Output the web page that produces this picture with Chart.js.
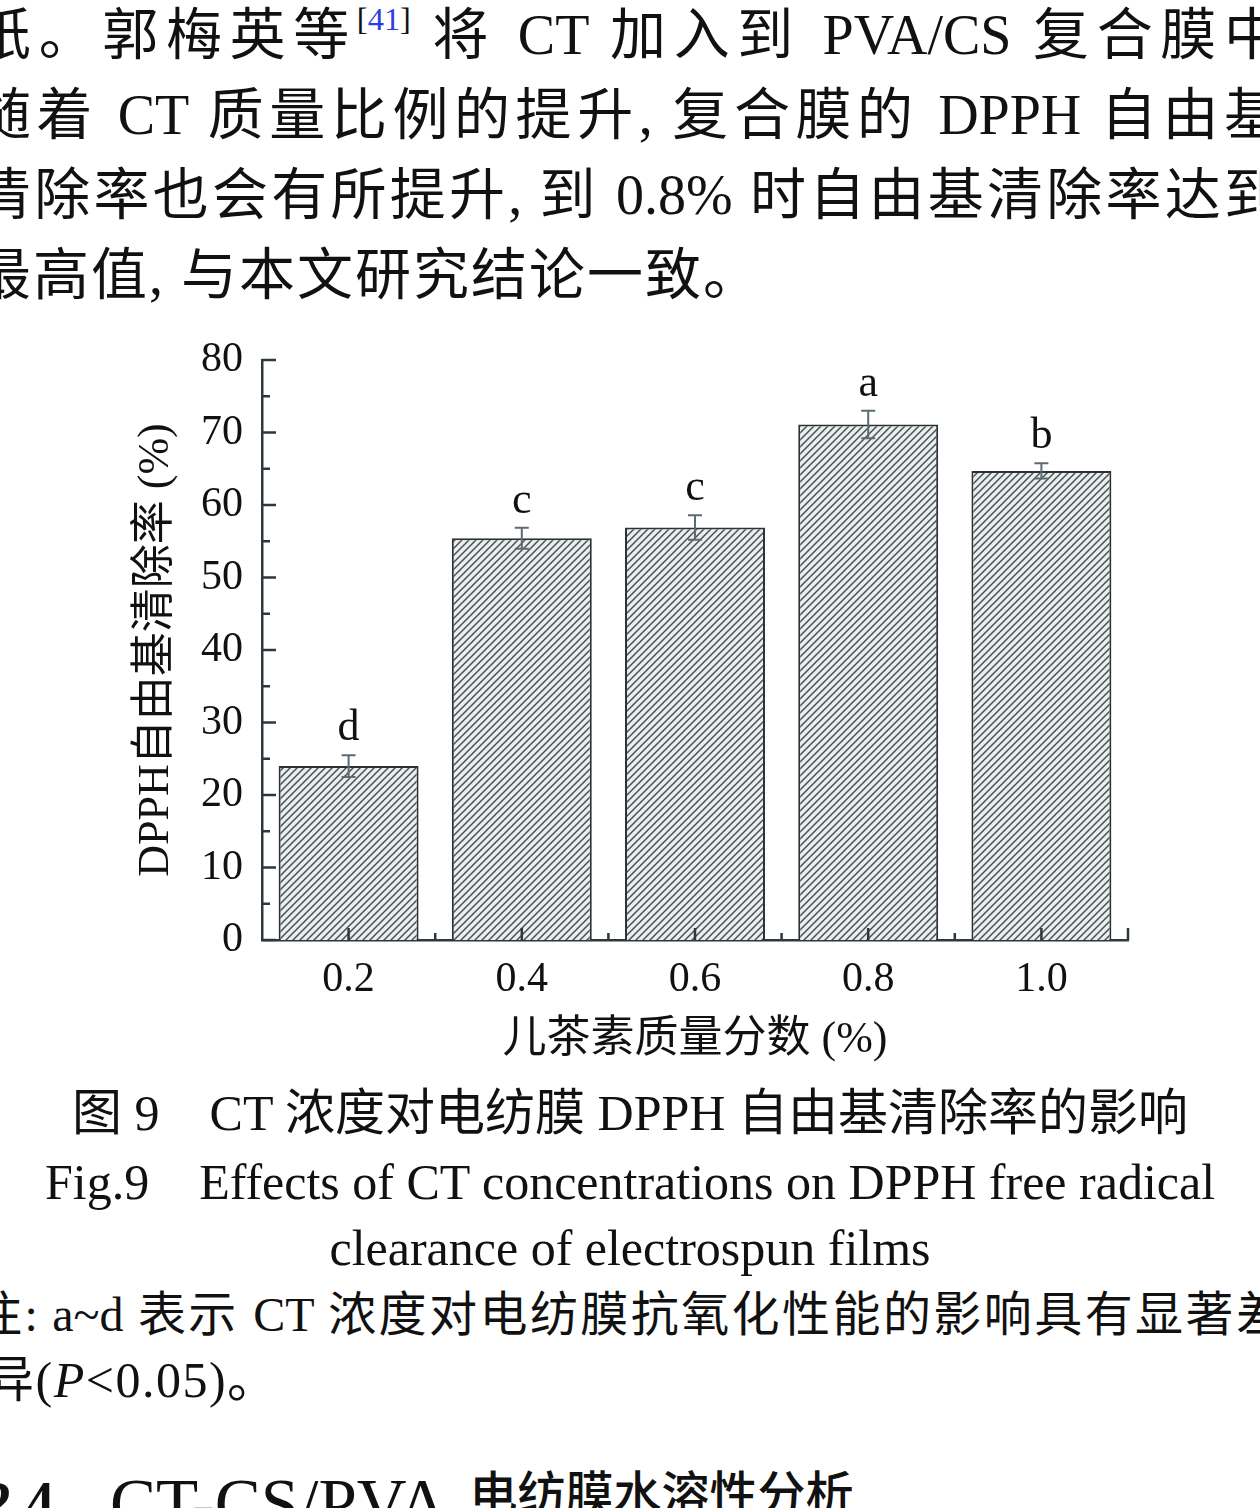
<!DOCTYPE html>
<html>
<head>
<meta charset="utf-8">
<script src="https://cdn.jsdelivr.net/npm/chart.js@4.4.0/dist/chart.umd.min.js"></script>
<style>
html, body { margin: 0; padding: 0; background: #fff; }
body {
    width: 1260px; height: 1508px; position: relative; overflow: hidden;
    font-family: "Liberation Serif", "Noto Sans CJK SC", serif; color: #111;
}
.line { position: absolute; white-space: nowrap; }
.just { position: absolute; text-align: justify; text-align-last: justify; }
.cap { position: absolute; left: 0; width: 1260px; text-align: center; white-space: nowrap; }
sup { font-size: 0.58em; line-height: 0; vertical-align: 0.75em; }
#wrap { position: absolute; left: 0; top: 330px; width: 1260px; height: 740px; }
</style>
</head>
<body>

<div class="just" style="left:-25px;top:-5px;width:1305px;font-size:56px;line-height:80px;">纸。郭梅英等<sup>[<span style="color:#2b3fe0">41</span>]</sup> 将 CT 加入到 PVA/CS 复合膜中</div>
<div class="just" style="left:-25px;top:75px;width:1305px;font-size:56px;line-height:80px;">随着 CT 质量比例的提升, 复合膜的 DPPH 自由基</div>
<div class="just" style="left:-25px;top:155px;width:1305px;font-size:56px;line-height:80px;">清除率也会有所提升, 到 0.8% 时自由基清除率达到</div>
<div class="line" style="left:-25px;top:235px;font-size:56px;line-height:80px;letter-spacing:2px;">最高值, 与本文研究结论一致。</div>

<div id="wrap"><canvas id="chart" width="1260" height="740"></canvas></div>

<div class="cap" style="top:1080px;font-size:50px;line-height:66px;">图 9　CT 浓度对电纺膜 DPPH 自由基清除率的影响</div>
<div class="cap" style="top:1149px;font-size:50px;line-height:66px;">Fig.9　Effects of CT concentrations on DPPH free radical</div>
<div class="cap" style="top:1215px;font-size:50px;line-height:66px;">clearance of electrospun films</div>

<div class="just" style="left:-26px;top:1283px;width:1310px;font-size:48px;line-height:64px;">注: a~d 表示 CT 浓度对电纺膜抗氧化性能的影响具有显著差</div>
<div class="line" style="left:-16px;top:1348px;font-size:50px;line-height:64px;letter-spacing:1.5px;">异(<i>P</i>&lt;0.05)。</div>

<div class="line" style="left:-16px;top:1466px;font-size:56px;line-height:64px;"><b>2.4</b>　<span style="font-size:69px;position:relative;top:6px;">CT-CS/PVA</span><span style="font-size:48px;font-weight:500;margin-left:22px;position:relative;top:-10px;">电纺膜水溶性分析</span></div>

<script>
const categories = ['0.2', '0.4', '0.6', '0.8', '1.0'];
const clearance = [24.0, 55.4, 56.9, 71.1, 64.7];
const errors = [1.5, 1.45, 1.7, 1.9, 1.05];
const letters = ['d', 'c', 'c', 'a', 'b'];
const yTicks = [0, 10, 20, 30, 40, 50, 60, 70, 80];

const serif = '"Liberation Serif", "Noto Sans CJK SC", serif';
const axisColor = '#2e383c';

// diagonal hatch like the printed figure
function hatch() {
    const s = 7;
    const c = document.createElement('canvas');
    c.width = s; c.height = s;
    const g = c.getContext('2d');
    g.fillStyle = '#eceeee';
    g.fillRect(0, 0, s, s);
    g.strokeStyle = '#465156';
    g.lineWidth = 1.5;
    g.beginPath();
    g.moveTo(0, s); g.lineTo(s, 0);
    g.moveTo(-1, 1); g.lineTo(1, -1);
    g.moveTo(s - 1, s + 1); g.lineTo(s + 1, s - 1);
    g.stroke();
    return g.createPattern(c, 'repeat');
}

// error bars, letters and the inward tick marks
const decor = {
    id: 'decor',
    afterDatasetsDraw(chart) {
        const { ctx, scales: { x, y } } = chart;
        const meta = chart.getDatasetMeta(0);
        ctx.save();
        ctx.lineWidth = 2;
        ctx.strokeStyle = '#5b6b72';
        ctx.fillStyle = '#111';
        ctx.font = '44px ' + serif;
        ctx.textAlign = 'center';
        ctx.textBaseline = 'alphabetic';
        meta.data.forEach((bar, i) => {
            const top = y.getPixelForValue(clearance[i] + errors[i]);
            const bot = y.getPixelForValue(clearance[i] - errors[i]);
            ctx.beginPath();
            ctx.moveTo(bar.x, top); ctx.lineTo(bar.x, bot);
            ctx.moveTo(bar.x - 7, top); ctx.lineTo(bar.x + 7, top);
            ctx.moveTo(bar.x - 7, bot); ctx.lineTo(bar.x + 7, bot);
            ctx.stroke();
            ctx.fillText(letters[i], bar.x, top - 15);
        });

        ctx.strokeStyle = axisColor;
        ctx.lineWidth = 2.5;
        ctx.beginPath();
        for (let v = 0; v <= 80; v += 5) {
            const py = y.getPixelForValue(v);
            ctx.moveTo(x.left, py);
            ctx.lineTo(x.left + (v % 10 === 0 ? 14 : 8), py);
        }
        const step = x.getPixelForValue(1) - x.getPixelForValue(0);
        categories.forEach((c, i) => {
            const px = x.getPixelForValue(i);
            ctx.moveTo(px, y.bottom); ctx.lineTo(px, y.bottom - 12);
            const edge = px + step / 2;
            const len = i === categories.length - 1 ? 12 : 7;
            ctx.moveTo(edge, y.bottom); ctx.lineTo(edge, y.bottom - len);
        });
        ctx.stroke();
        ctx.restore();
    }
};

new Chart(document.getElementById('chart'), {
    type: 'bar',
    data: {
        labels: categories,
        datasets: [{
            data: clearance,
            backgroundColor: hatch(),
            borderColor: '#2b3236',
            borderWidth: 2,
            categoryPercentage: 1,
            barPercentage: 0.808
        }]
    },
    options: {
        responsive: false,
        animation: false,
        layout: { padding: { top: 30, right: 132, left: 0, bottom: 0 } },
        plugins: { legend: { display: false }, tooltip: { enabled: false } },
        scales: {
            x: {
                grid: { display: false, drawTicks: false },
                border: { display: true, color: axisColor, width: 2.5 },
                ticks: { color: '#111', padding: 15, font: { family: serif, size: 42 } },
                title: {
                    display: true, text: '儿茶素质量分数 (%)', color: '#111',
                    font: { family: serif, size: 44 }, padding: { top: 0, bottom: 3 }
                },
                afterFit(scale) { scale.height = 130; }
            },
            y: {
                min: 0, max: 80,
                afterBuildTicks(scale) { scale.ticks = yTicks.map(v => ({ value: v })); },
                grid: { display: false, drawTicks: false },
                border: { display: true, color: axisColor, width: 2.5 },
                ticks: { color: '#111', padding: 19, font: { family: serif, size: 42 } },
                title: {
                    display: true, text: 'DPPH自由基清除率 (%)', color: '#111',
                    font: { family: serif, size: 44 }, padding: { top: 130, bottom: 0 }
                },
                afterFit(scale) {
                    scale.width = 262;
                    scale.paddingTop = 0;
                    scale.paddingBottom = 0;
                }
            }
        }
    },
    plugins: [decor]
});
</script>
</body>
</html>
